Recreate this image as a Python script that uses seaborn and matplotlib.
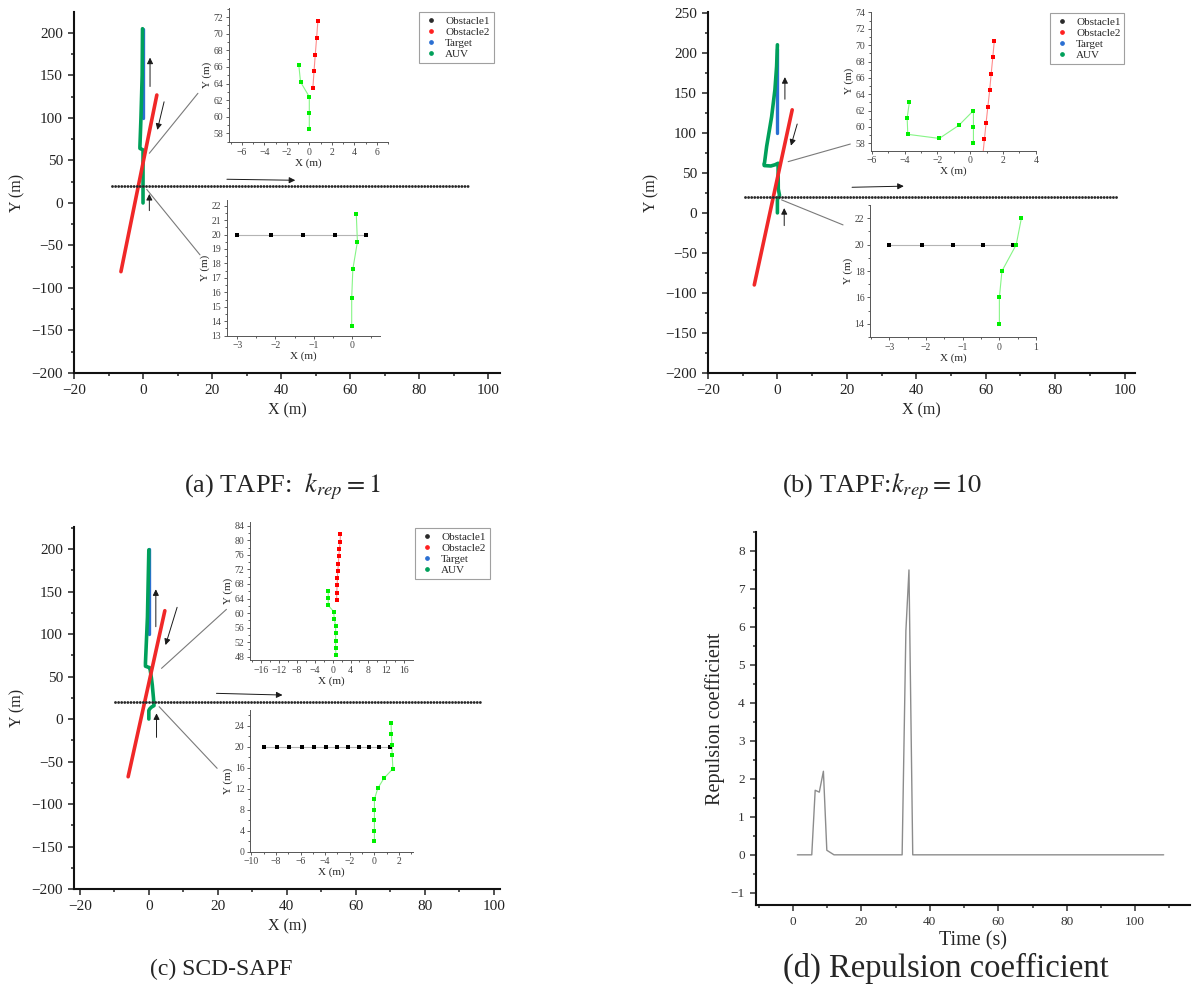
import matplotlib
matplotlib.use("Agg")
import matplotlib.pyplot as plt
import seaborn as sns
from matplotlib.ticker import MultipleLocator
from matplotlib.lines import Line2D

# ---------------- panel (a) TAPF, k_rep = 1 ----------------
a_obs1_x = [-9.1, 94.6]
a_obs1_y = [20, 20]
a_obs2_x = [-6.4, 4.0]
a_obs2_y = [-80.8, 127.0]
a_target_x = [0, 0]
a_target_y = [100, 205]
a_auv_x = [0, 0, -0.9, -0.9, -0.6, -0.25, -0.15]
a_auv_y = [0, 62.4, 64.2, 66.2, 100, 150, 205]
a_top_obs2_x = [0.32, 0.42, 0.53, 0.65, 0.76]
a_top_obs2_y = [63.5, 65.5, 67.5, 69.5, 71.5]
a_top_auv_x = [0, 0, 0, -0.78, -0.93]
a_top_auv_y = [58.5, 60.5, 62.4, 64.2, 66.2]
a_bot_obs1_x = [-3.0, -2.12, -1.28, -0.45, 0.38]
a_bot_obs1_y = [20, 20, 20, 20, 20]
a_bot_auv_x = [0, 0, 0.03, 0.15, 0.12]
a_bot_auv_y = [13.65, 15.6, 17.6, 19.5, 21.45]
a_arrows = [((2.03, 137), (2.03, 171)), ((6.1, 119), (4.15, 86)),
            ((24.3, 27.9), (44.1, 26.7)), ((1.83, -9), (1.83, 10.6))]
a_links = [((1.83, 58.5), (15.9, 129)), ((1.07, 16), (16.5, -61))]

# ---------------- panel (b) TAPF, k_rep = 10 ----------------
b_obs1_x = [-9.2, 98.0]
b_obs1_y = [20, 20]
b_obs2_x = [-6.66, 4.26]
b_obs2_y = [-90, 128.75]
b_target_x = [0, 0]
b_target_y = [100, 205]
b_auv_x = [0, 0, 0, 0.07, 0.46, 0.6, 0.25, 0.2, 0.2, -0.7, -1.9, -3.8, -3.85, -3.7,
           -3.1, -1.67, -0.72, -0.23, 0]
b_auv_y = [0, 14, 16, 18, 20, 22, 30, 58, 62, 60.1, 58.6, 59.1, 61, 63,
           83, 120, 153.75, 183, 210]
b_top_obs2_x = [0.77, 0.87, 0.97, 1.08, 1.19, 1.28, 1.38, 1.47]
b_top_obs2_y = [56.5, 58.5, 60.5, 62.5, 64.5, 66.5, 68.5, 70.5]
b_top_auv_x = [0.2, 0.2, 0.2, -0.69, -1.88, -3.8, -3.84, -3.7]
b_top_auv_y = [58.0, 60.0, 62.0, 60.2, 58.6, 59.1, 61.1, 63.1]
b_bot_obs1_x = [-3.0, -2.12, -1.27, -0.44, 0.37]
b_bot_obs1_y = [20, 20, 20, 20, 20]
b_bot_auv_x = [0, 0, 0.07, 0.46, 0.6]
b_bot_auv_y = [14, 16, 18, 20, 22]
b_arrows = [((2.16, 142), (2.16, 169.6)), ((5.7, 111), (3.9, 84)),
            ((21.5, 32), (36.4, 33.4)), ((1.96, -15.9), (1.96, 6))]
b_links = [((3.1, 64), (21.0, 86)), ((1.2, 16.25), (18.9, -15))]

# ---------------- panel (c) SCD-SAPF ----------------
c_obs1_x = [-9.8, 95.9]
c_obs1_y = [20, 20]
c_obs2_x = [-6.0, 4.64]
c_obs2_y = [-67.9, 127.4]
c_target_x = [0, 0]
c_target_y = [100, 200]
c_auv_x = [0, 0, 0.27, 0.76, 1.5, 1.35, 1.0, 0.74, 0.37, 0.22, -0.98, -0.98, -0.98, -0.4, 0]
c_auv_y = [0, 10, 12, 14, 15.8, 24.4, 40, 48.4, 58.4, 60.4, 62.1, 64.1, 66.1, 120, 199]
c_top_obs2_x = [0.89, 0.92, 1.0, 1.07, 1.15, 1.29, 1.37, 1.52, 1.67, 1.74]
c_top_obs2_y = [63.6, 65.6, 67.6, 69.6, 71.6, 73.6, 75.6, 77.6, 79.6, 81.6]
c_top_auv_x = [0.74, 0.67, 0.67, 0.67, 0.67, 0.37, 0.22, -0.98, -0.98, -0.98]
c_top_auv_y = [48.4, 50.4, 52.4, 54.4, 56.4, 58.4, 60.4, 62.1, 64.1, 66.1]
c_bot_obs1_x = [-8.94, -7.93, -6.94, -5.9, -4.93, -3.96, -3.03, -2.14, -1.27, -0.46, 0.41, 1.28]
c_bot_obs1_y = [20] * 12
c_bot_auv_x = [0, 0, 0, 0, 0, 0.27, 0.76, 1.5, 1.44, 1.41, 1.38, 1.35]
c_bot_auv_y = [2.05, 4.0, 6.0, 8.0, 10.0, 12.05, 13.95, 15.8, 18.35, 20.4, 22.35, 24.45]
c_arrows = [((2.03, 108.6), (2.03, 152.6)), ((8.2, 131.4), (4.84, 87)),
            ((19.6, 30.2), (38.75, 28.2)), ((2.23, -21.6), (2.23, 6.7))]
c_links = [((3.68, 59.6), (22.5, 129)), ((2.99, 14.5), (19.8, -58))]

# ---------------- panel (d) repulsion coefficient ----------------
d_time = [1.3, 5.5, 6.5, 7.7, 8.9, 9.9, 12, 31.9, 33.0, 33.9, 35.0, 108.3]
d_coef = [0, 0, 1.7, 1.65, 2.2, 0.12, 0, 0, 5.9, 7.5, 0, 0]

legend_labels = ["Obstacle1", "Obstacle2", "Target", "AUV"]

RED = "#f02828"
GREEN = "#00a05a"
BLUE = "#2a6fd2"
OBS1 = "#2a2a2a"

sns.set_theme(style="ticks")
plt.rcParams["font.family"] = ["Liberation Serif", "DejaVu Serif"]
plt.rcParams["mathtext.fontset"] = "stix"

fig = plt.figure(figsize=(12.03, 9.96), dpi=100)


def draw_main(rect, xlim, ylim, yticks, obs1, obs2, target, auv, arrows, links, leg_pos):
    ax = fig.add_axes(rect)
    sns.lineplot(x=target[0], y=target[1], color=BLUE, lw=2.4, sort=False, estimator=None, ax=ax)
    sns.lineplot(x=auv[0], y=auv[1], color=GREEN, lw=2.6, sort=False, estimator=None, ax=ax)
    sns.lineplot(x=obs2[0], y=obs2[1], color=RED, lw=2.6, sort=False, estimator=None, ax=ax)
    sns.lineplot(x=obs1[0], y=obs1[1], color=OBS1, lw=2.1, linestyle=(0, (0.01, 1.05)),
                 dash_capstyle="round", sort=False, estimator=None, ax=ax)
    for (p0, p1) in links:
        ax.plot([p0[0], p1[0]], [p0[1], p1[1]], color="#7a7a7a", lw=0.8)
    for (p0, p1) in arrows:
        ax.annotate("", xy=p1, xytext=p0,
                    arrowprops=dict(arrowstyle="-|>", color="#1a1a1a", lw=0.7,
                                    mutation_scale=9, shrinkA=0, shrinkB=0))
    ax.set_xlim(xlim)
    ax.set_ylim(ylim)
    ax.xaxis.set_major_locator(MultipleLocator(20))
    ax.xaxis.set_minor_locator(MultipleLocator(10))
    ax.yaxis.set_major_locator(MultipleLocator(yticks))
    ax.yaxis.set_minor_locator(MultipleLocator(yticks / 2))
    sns.despine(ax=ax)
    for s in ["left", "bottom"]:
        ax.spines[s].set_linewidth(1.5)
        ax.spines[s].set_color("#111111")
    ax.tick_params(which="both", direction="out", width=1.1, colors="#222222", labelsize=11)
    ax.tick_params(which="major", length=4.5)
    ax.tick_params(which="minor", length=2.5)
    ax.set_xlabel("X (m)", fontsize=11.5)
    ax.set_ylabel("Y (m)", fontsize=11.5)
    handles = [Line2D([], [], marker="o", ms=2.4, ls="none", color=c)
               for c in [OBS1, "#ff2020", BLUE, GREEN]]
    leg = ax.legend(handles, legend_labels, loc="upper left", bbox_to_anchor=leg_pos,
                    bbox_transform=fig.transFigure, frameon=True, fancybox=False,
                    fontsize=8, handlelength=1.4, handletextpad=0.6, borderpad=0.35,
                    labelspacing=0.12, borderaxespad=0)
    leg.get_frame().set_edgecolor("#888888")
    leg.get_frame().set_linewidth(0.8)
    return ax


def draw_inset(rect, xlim, ylim, xstep, ystep, obs_x, obs_y, auv_x, auv_y, obs_kind):
    ax = fig.add_axes(rect)
    ax.set_facecolor("none")
    if obs_kind == "red":
        line_c, mark_c = "#ff8a8a", "#ff0000"
    else:
        line_c, mark_c = "#b4b4b4", "#000000"
    sns.lineplot(x=obs_x, y=obs_y, color=line_c, lw=0.8, sort=False, estimator=None, ax=ax)
    sns.lineplot(x=auv_x, y=auv_y, color="#86f586", lw=0.8, sort=False, estimator=None, ax=ax)
    sns.scatterplot(x=obs_x, y=obs_y, color=mark_c, marker="s", s=6, linewidth=0, ax=ax, zorder=3)
    sns.scatterplot(x=auv_x, y=auv_y, color="#00ee00", marker="s", s=6, linewidth=0, ax=ax, zorder=3)
    ax.set_xlim(xlim)
    ax.set_ylim(ylim)
    ax.xaxis.set_major_locator(MultipleLocator(xstep))
    ax.xaxis.set_minor_locator(MultipleLocator(xstep / 2))
    ax.yaxis.set_major_locator(MultipleLocator(ystep))
    ax.yaxis.set_minor_locator(MultipleLocator(ystep / 2))
    sns.despine(ax=ax)
    for s in ["left", "bottom"]:
        ax.spines[s].set_linewidth(0.7)
        ax.spines[s].set_color("#555555")
    ax.tick_params(which="both", direction="out", width=0.6, colors="#444444", labelsize=7, pad=1.5)
    ax.tick_params(which="major", length=2.5)
    ax.tick_params(which="minor", length=1.5)
    ax.set_xlabel("X (m)", fontsize=8, labelpad=1)
    ax.set_ylabel("Y (m)", fontsize=8, labelpad=1)
    return ax


# panel (a)
draw_main([0.0615, 0.6255, 0.3541, 0.3625], (-20, 103.4), (-200, 224.7), 50,
          (a_obs1_x, a_obs1_y), (a_obs2_x, a_obs2_y), (a_target_x, a_target_y),
          (a_auv_x, a_auv_y), a_arrows, a_links, (0.3483, 0.988))
draw_inset([0.1904, 0.8574, 0.1322, 0.1345], (-7.13, 7.0), (56.95, 73.1), 2, 2,
           a_top_obs2_x, a_top_obs2_y, a_top_auv_x, a_top_auv_y, "red")
draw_inset([0.1884, 0.6630, 0.1274, 0.1363], (-3.28, 0.74), (13, 22.4), 1, 1,
           a_bot_obs1_x, a_bot_obs1_y, a_bot_auv_x, a_bot_auv_y, "black")

# panel (b)
draw_main([0.5885, 0.6255, 0.3550, 0.3625], (-20, 103), (-200, 251), 50,
          (b_obs1_x, b_obs1_y), (b_obs2_x, b_obs2_y), (b_target_x, b_target_y),
          (b_auv_x, b_auv_y), b_arrows, b_links, (0.8728, 0.987))
draw_inset([0.7238, 0.8487, 0.1372, 0.1396], (-6.06, 4.0), (57.1, 74.1), 2, 2,
           b_top_obs2_x, b_top_obs2_y, b_top_auv_x, b_top_auv_y, "red")
draw_inset([0.7232, 0.6616, 0.1380, 0.1325], (-3.53, 1.0), (13, 23), 1, 2,
           b_bot_obs1_x, b_bot_obs1_y, b_bot_auv_x, b_bot_auv_y, "black")

# panel (c)
draw_main([0.0615, 0.1074, 0.3541, 0.3635], (-21.7, 101.8), (-200, 225.9), 50,
          (c_obs1_x, c_obs1_y), (c_obs2_x, c_obs2_y), (c_target_x, c_target_y),
          (c_auv_x, c_auv_y), c_arrows, c_links, (0.345, 0.4699))
draw_inset([0.2078, 0.3373, 0.1352, 0.1389], (-18.5, 17.9), (47.1, 85.1), 4, 4,
           c_top_obs2_x, c_top_obs2_y, c_top_auv_x, c_top_auv_y, "red")
draw_inset([0.2078, 0.1449, 0.1352, 0.1423], (-10.1, 3.1), (0, 27), 2, 4,
           c_bot_obs1_x, c_bot_obs1_y, c_bot_auv_x, c_bot_auv_y, "black")

# panel (d)
axd = fig.add_axes([0.6284, 0.0914, 0.3608, 0.3745])
sns.lineplot(x=d_time, y=d_coef, color="#8c8c8c", lw=1.0, ax=axd)
axd.set_xlim(-10.8, 116)
axd.set_ylim(-1.32, 8.5)
axd.xaxis.set_major_locator(MultipleLocator(20))
axd.xaxis.set_minor_locator(MultipleLocator(10))
axd.yaxis.set_major_locator(MultipleLocator(1))
axd.yaxis.set_minor_locator(MultipleLocator(0.5))
sns.despine(ax=axd)
for s in ["left", "bottom"]:
    axd.spines[s].set_linewidth(1.5)
    axd.spines[s].set_color("#111111")
axd.tick_params(which="both", direction="out", width=1.1, colors="#333333", labelsize=9.5)
axd.tick_params(which="major", length=4.5)
axd.tick_params(which="minor", length=2.5)
axd.set_xlabel("Time (s)", fontsize=14.5, labelpad=2)
axd.set_ylabel("Repulsion coefficient", fontsize=14.5)

# captions
fig.text(184 / 1203, 1 - 492 / 996, "(a) TAPF:  $k_{rep}=1$", fontsize=19, ha="left", va="baseline")
fig.text(782 / 1203, 1 - 492 / 996, "(b) TAPF:$k_{rep}=10$", fontsize=19, ha="left", va="baseline")
fig.text(150 / 1203, 1 - 975 / 996, "(c) SCD-SAPF", fontsize=17, ha="left", va="baseline")
fig.text(783 / 1203, 1 - 977 / 996, "(d) Repulsion coefficient", fontsize=23.5, ha="left", va="baseline")

fig.savefig("out.png", dpi=100)
